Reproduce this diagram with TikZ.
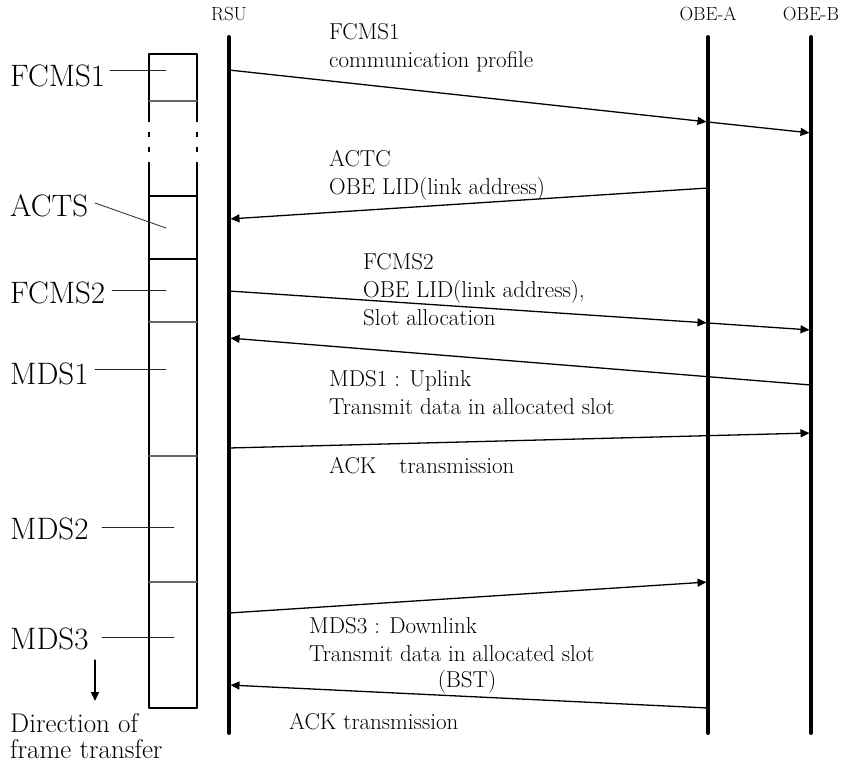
\documentclass[tikz,border=0pt]{standalone}
\usetikzlibrary{arrows.meta}
\begin{document}
\begin{tikzpicture}[x=1pt,y=-1pt,line cap=round,line join=round,
    life/.style={line width=4pt},
    msg/.style={line width=1.3pt,-{Triangle[length=9pt,width=8pt]},shorten >=1.5pt},
    head/.style={font=\fontsize{19}{22}\selectfont,inner sep=0pt},
    lbl/.style={font=\fontsize{23}{28}\selectfont,align=left,anchor=north west,inner sep=0pt},
    slot/.style={font=\fontsize{31}{34}\selectfont,anchor=west,inner sep=0pt},
    tick/.style={line width=0.8pt,black!85},
    edge/.style={line width=1.8pt,line cap=butt},
    cut/.style={line width=1.2pt,black!60}]
  \useasboundingbox (0,0) rectangle (857,764);

  \node[head] (rsu) at (229,14) {RSU};
  \node[head] (obea) at (708,14) {OBE-A};
  \node[head] (obeb) at (811,14) {OBE-B};
  \draw[life] (229,37) coordinate (rsuT) -- (229,733) coordinate (rsuB);
  \draw[life] (708,37) coordinate (obeaT) -- (708,733) coordinate (obeaB);
  \draw[life] (811,37) coordinate (obebT) -- (811,733) coordinate (obebB);

  \draw[edge] (149,122) -- (149,54) -- (197,54) -- (197,122);
  \draw[edge] (149,132) -- (149,137) (149,147) -- (149,152)
              (197,132) -- (197,137) (197,147) -- (197,152);
  \draw[edge] (149,162) -- (149,708) -- (197,708) -- (197,162);
  \draw[edge] (149,196) -- (197,196) (149,259) -- (197,259);
  \foreach \y in {101,322,456,582}
    \draw[cut] (149,\y) -- (197,\y);

  \node[slot] (fcms1) at (10,76) {FCMS1};
  \node[slot] (acts) at (10,206) {ACTS};
  \node[slot] (fcms2) at (10,293) {FCMS2};
  \node[slot] (mds1) at (10,374) {MDS1};
  \node[slot] (mds2) at (10,529) {MDS2};
  \node[slot] (mds3) at (10,639) {MDS3};
  \draw[tick] (110,70) -- (166,70);
  \draw[tick] (95,203) -- (166,228);
  \draw[tick] (112,290) -- (166,290);
  \draw[tick] (95,369) -- (166,369);
  \draw[tick] (102,527) -- (174,527);
  \draw[tick] (102,637) -- (174,637);
  \draw[line width=1.3pt,-{Triangle[length=9pt,width=8pt]}] (95,660) -- (95,701);
  \node[font=\fontsize{27}{26}\selectfont,align=left,anchor=north west,inner sep=0pt]
    (dir) at (10,713) {Direction of\\frame transfer};

  \coordinate (r1) at (229,70);  \coordinate (a1) at (708,122); \coordinate (b1) at (811,133);
  \coordinate (a2) at (708,188); \coordinate (r2) at (229,219);
  \coordinate (r3) at (229,291); \coordinate (a3) at (708,323); \coordinate (b3) at (811,330);
  \coordinate (b4) at (811,385); \coordinate (r4) at (229,338);
  \coordinate (r5) at (229,448); \coordinate (b5) at (811,433);
  \coordinate (r6) at (229,613); \coordinate (a6) at (708,582);
  \coordinate (a7) at (708,708); \coordinate (r7) at (229,685);

  \draw[msg] (r1) -- (a1);
  \draw[msg] (a1) -- (b1);
  \draw[msg] (a2) -- (r2);
  \draw[msg] (r3) -- (a3);
  \draw[msg] (a3) -- (b3);
  \draw[msg] (b4) -- (r4);
  \draw[msg] (r5) -- (b5);
  \draw[msg] (r6) -- (a6);
  \draw[msg] (a7) -- (r7);

  \node[lbl] (txtF1) at (329,23) {FCMS1\\communication profile};
  \node[lbl] (txtAC) at (329,150) {ACTC\\OBE LID(link address)};
  \node[lbl] (txtF2) at (363,253) {FCMS2\\OBE LID(link address),\\Slot allocation};
  \node[lbl] (txtM1) at (329,370) {MDS1 : Uplink\\Transmit data in allocated slot};
  \node[lbl] (txtK1) at (329,457) {ACK\quad transmission};
  \node[lbl] (txtM3) at (309,617) {MDS3 : Downlink\\Transmit data in allocated slot};
  \node[lbl,anchor=north] (txtBst) at (467,670) {(BST)};
  \node[lbl] (txtK2) at (289,713) {ACK transmission};
\end{tikzpicture}
\end{document}
